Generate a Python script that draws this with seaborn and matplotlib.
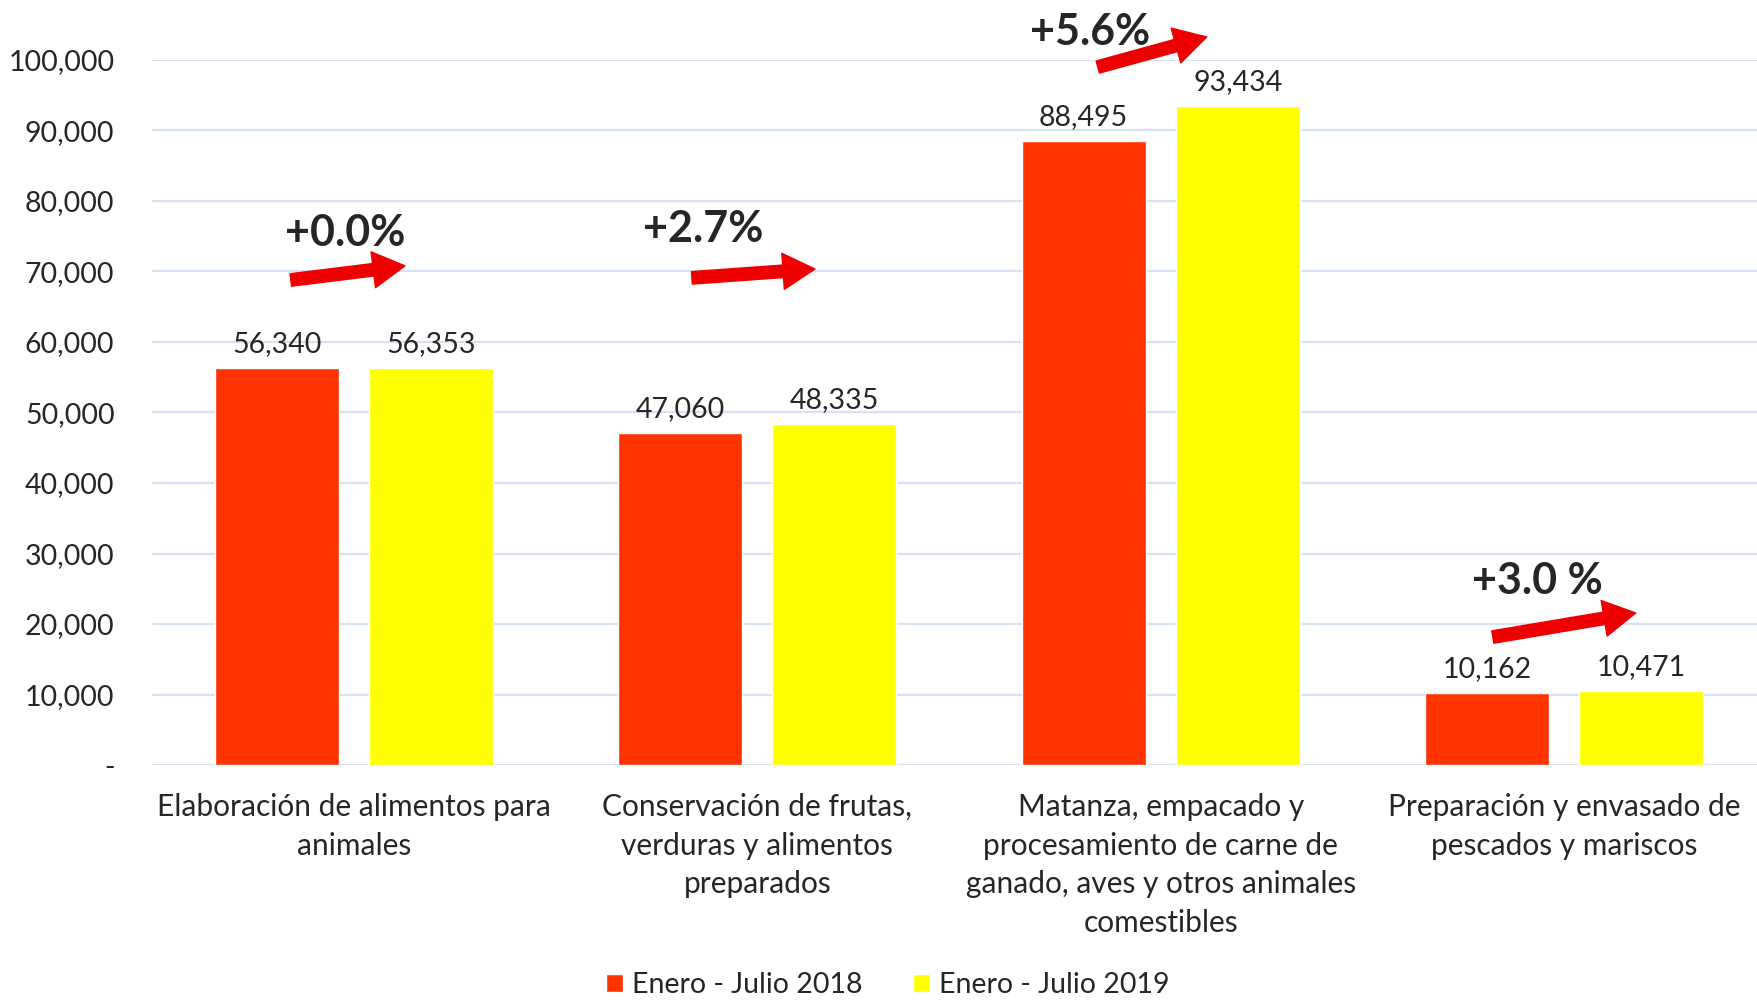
import numpy as np
import pandas as pd
import seaborn as sns
import matplotlib.pyplot as plt

# --------------------------------------------------
categories = [
    'Elaboración de alimentos para\nanimales',
    'Conservación de frutas,\nverduras y alimentos\npreparados',
    'Matanza, empacado y\nprocesamiento de carne de\nganado, aves y otros animales\ncomestibles',
    'Preparación y envasado de\npescados y mariscos',
]
series = ['Enero - Julio 2018', 'Enero - Julio 2019']
values_2018 = [56340, 47060, 88495, 10162]
values_2019 = [56353, 48335, 93434, 10471]
changes = ['+0.0%', '+2.7%', '+5.6%', '+3.0 %']
yticks = list(range(0, 100001, 10000))
ytick_labels = ['-'] + ['{:,}'.format(v) for v in yticks[1:]]

colors = ['#FF3300', '#FFFF00']

# annotation placement (relative to category, data units)
text_pos = [(-0.02, 75500), (-0.135, 76000), (-0.176, 104000), (-0.066, 26100)]
arrow_pos = [((-0.156, 68800), (0.127, 70800)),
             ((-0.162, 69100), (0.143, 70350)),
             ((-0.156, 99000), (0.114, 103260)),
             ((-0.177, 18150), (0.177, 21560))]


# --------------------------------------------------
def main():
    df = pd.DataFrame({
        'cat': categories * 2,
        'serie': [series[0]] * 4 + [series[1]] * 4,
        'valor': values_2018 + values_2019,
    })

    sns.set_style('white')
    plt.rcParams['font.family'] = ['Lato', 'DejaVu Sans']

    fig = plt.figure(figsize=(17.58, 10.05), dpi=100)
    ax = fig.add_axes([152 / 1758, 1 - 765 / 1005, 1614 / 1758,
                       705 / 1005])

    sns.barplot(data=df, x='cat', y='valor', hue='serie', palette=colors,
                width=0.764, gap=0.194, saturation=1, ax=ax, legend=True)

    ax.set_ylim(0, 100000)
    ax.set_xlim(-0.5, 3.5)
    ax.set_yticks(yticks)
    ax.set_yticklabels(ytick_labels, fontsize=20.5)
    ax.tick_params(axis='y', length=0, pad=27)
    ax.tick_params(axis='x', length=0, pad=20, labelsize=21.5)
    for lbl in ax.get_xticklabels():
        lbl.set_linespacing(1.47)
        lbl.set_verticalalignment('top')
    ax.set_xlabel('')
    ax.set_ylabel('')
    ax.grid(axis='y', color='#D6E2F2', linewidth=1.6)
    ax.set_axisbelow(True)
    for s in ax.spines.values():
        s.set_visible(False)

    for cont in ax.containers:
        ax.bar_label(cont, labels=['{:,}'.format(int(v)) for v in cont.datavalues],
                     padding=8, fontsize=20.5)

    for i in range(len(categories)):
        tx, ty = text_pos[i]
        ax.text(i + tx, ty, changes[i], ha='center', va='center',
                fontsize=31, fontweight='bold', clip_on=False)
        (x0, y0), (x1, y1) = arrow_pos[i]
        ax.annotate('', xy=(i + x1, y1), xytext=(i + x0, y0),
                    annotation_clip=False,
                    arrowprops=dict(
                        arrowstyle='simple,head_width=2.6,head_length=2.3,tail_width=0.9',
                        color='#EE0000', shrinkA=0, shrinkB=0))

    handles, labels = ax.get_legend_handles_labels()
    ax.legend_.remove()
    fig.legend(handles, labels, loc='center', bbox_to_anchor=(0.505, 0.02),
               ncol=2, frameon=False, fontsize=20.5, handlelength=0.6,
               handleheight=0.6, handletextpad=0.3, columnspacing=1.8,
               borderpad=0.1)

    fig.savefig('out.png', dpi=100)


# --------------------------------------------------
if __name__ == '__main__':
    main()
